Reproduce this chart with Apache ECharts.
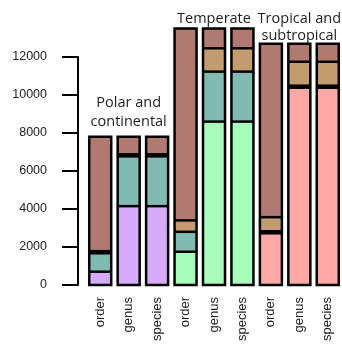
<!DOCTYPE html>
<html>
<head>
<meta charset="utf-8">
<script src="https://cdn.jsdelivr.net/npm/echarts@6/dist/echarts.min.js"></script>
<style>html,body{margin:0;padding:0;background:#fff;}#c{width:342px;height:345px;}</style>
</head>
<body>
<div id="c"></div>
<script>
var categories = ['order','genus','species','order','genus','species','order','genus','species'];
var groupLabels = ['Polar and\ncontinental','Temperate','Tropical and\nsubtropical'];
var yTicks = [0, 2000, 4000, 6000, 8000, 10000, 12000];
var baseVals = [700, 4150, 4150, 1750, 8600, 8600, 2720, 10380, 10380];
var tealVals = [970, 2620, 2620, 1050, 2630, 2630, null, null, null];
var darkVals = [110, 110, 110, null, null, null, 110, 110, 110];
var tanVals = [null, null, null, 600, 1230, 1230, 740, 1260, 1260];
var brownVals = [6020, 920, 920, 10100, 1040, 1040, 9130, 950, 950];

var groupColors = ['#d6a9f9', '#a9fdbc', '#ffa9a7'];
var labelDist = [5, 1, -1];
var labelLH = [19, 18, 17];
var BW = 2.5;
var BARW = 22;
var AX_FONT = 'Liberation Sans, Arial, sans-serif';
var stackArrays = [baseVals, tealVals, darkVals, tanVals, brownVals];

var chart = echarts.init(document.getElementById('c'));
var common = { type: 'bar', stack: 'all', barWidth: BARW, clip: false };
function mk(name, vals, color) {
  return Object.assign({}, common, { name: name, itemStyle: { color: color }, data: vals });
}
var baseData = baseVals.map(function (v, i) {
  return { value: v, itemStyle: { color: groupColors[Math.floor(i / 3)] } };
});
var brownData = brownVals.map(function (v, i) {
  var d = { value: v };
  var g = Math.floor(i / 3);
  if (i % 3 === 1) {
    d.label = {
      show: true, position: 'top', distance: labelDist[g],
      formatter: groupLabels[g],
      fontFamily: 'Open Sans', fontSize: 14.5, lineHeight: labelLH[g], color: '#1e1e1e'
    };
  }
  return d;
});
var outlineData = categories.map(function (c, i) { return [i, 0]; });

chart.setOption({
  animation: false,
  grid: { left: 86, right: 0, top: 57, bottom: 60 },
  xAxis: {
    type: 'category', data: categories,
    axisLine: { show: false }, axisTick: { show: false },
    axisLabel: { rotate: 90, margin: 12, fontFamily: AX_FONT, fontSize: 13, color: '#222', interval: 0 }
  },
  yAxis: {
    type: 'value', min: yTicks[0], max: yTicks[yTicks.length - 1], interval: 2000, offset: 8,
    axisLine: { show: true, lineStyle: { color: '#000', width: 2 } },
    axisTick: { show: true, length: 16, lineStyle: { color: '#000', width: 2 } },
    splitLine: { show: false },
    axisLabel: { margin: 31, fontFamily: AX_FONT, fontSize: 12.5, color: '#222',
      formatter: function (v) { return String(v); } }
  },
  series: [
    Object.assign({}, common, { name: 'base', data: baseData }),
    mk('teal', tealVals, '#80bab0'),
    mk('dark', darkVals, '#000000'),
    mk('tan', tanVals, '#c29c6e'),
    Object.assign({}, common, { name: 'brown', itemStyle: { color: '#b07a72' }, data: brownData }),
    {
      type: 'custom', name: 'outline', clip: false, z: 5,
      data: outlineData, encode: { x: 0, y: 1 },
      renderItem: function (params, api) {
        var i = api.value(0);
        var cx = api.coord([i, 0])[0];
        var y0 = api.coord([i, 0])[1];
        var x1 = cx - BARW / 2, x2 = cx + BARW / 2;
        var cum = 0, children = [], bounds = [];
        stackArrays.forEach(function (arr) {
          var v = arr[i];
          if (v == null) return;
          cum += v;
          bounds.push(cum);
        });
        var yTop = api.coord([i, cum])[1];
        bounds.slice(0, -1).forEach(function (b) {
          var y = api.coord([i, b])[1];
          children.push({ type: 'line', shape: { x1: x1, y1: y, x2: x2, y2: y },
            style: { stroke: '#000', lineWidth: BW } });
        });
        children.push({ type: 'rect', shape: { x: x1, y: yTop, width: BARW, height: y0 - yTop },
          style: { fill: 'none', stroke: '#000', lineWidth: BW } });
        return { type: 'group', children: children };
      }
    }
  ]
});
</script>
</body>
</html>
